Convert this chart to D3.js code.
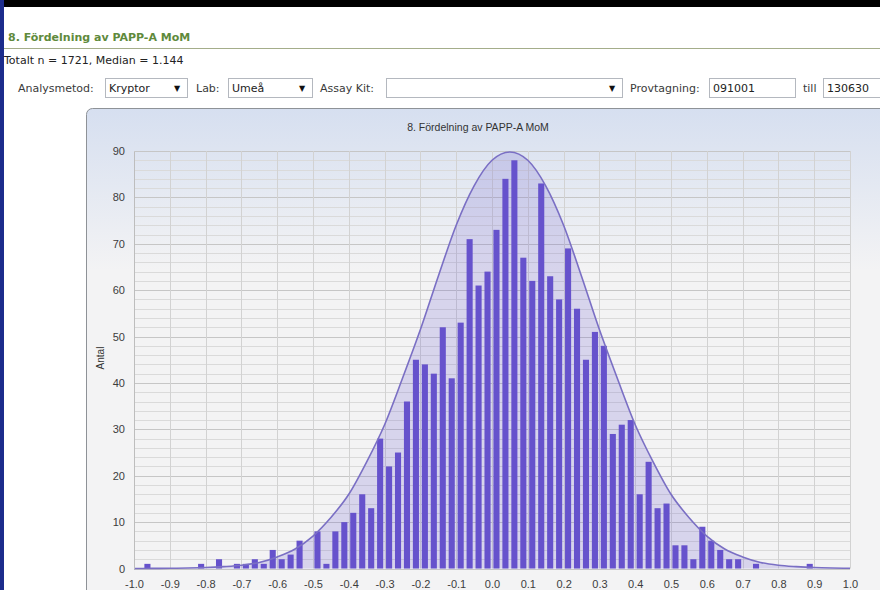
<!DOCTYPE html>
<html>
<head>
<meta charset="utf-8">
<script src="https://cdn.jsdelivr.net/npm/d3@7"></script>
<style>
  body { margin: 0; background: #fff; }
  svg { display: block; }
  .hdr { font-family: "DejaVu Sans", Verdana, sans-serif; font-size: 11px; fill: #3a3a3a; }
  .chart text { font-family: "Liberation Sans", Arial, sans-serif; fill: #333; }
</style>
</head>
<body>
<div id="page"></div>
<script>
// Bin centres (log MoM), bin width 0.025
var binCenters = [
  -0.9875, -0.9625, -0.9375, -0.9125, -0.8875, -0.8625, -0.8375, -0.8125, -0.7875, -0.7625,
  -0.7375, -0.7125, -0.6875, -0.6625, -0.6375, -0.6125, -0.5875, -0.5625, -0.5375, -0.5125,
  -0.4875, -0.4625, -0.4375, -0.4125, -0.3875, -0.3625, -0.3375, -0.3125, -0.2875, -0.2625,
  -0.2375, -0.2125, -0.1875, -0.1625, -0.1375, -0.1125, -0.0875, -0.0625, -0.0375, -0.0125,
   0.0125,  0.0375,  0.0625,  0.0875,  0.1125,  0.1375,  0.1625,  0.1875,  0.2125,  0.2375,
   0.2625,  0.2875,  0.3125,  0.3375,  0.3625,  0.3875,  0.4125,  0.4375,  0.4625,  0.4875,
   0.5125,  0.5375,  0.5625,  0.5875,  0.6125,  0.6375,  0.6625,  0.6875,  0.7125,  0.7375,
   0.7625,  0.7875,  0.8125,  0.8375,  0.8625,  0.8875,  0.9125,  0.9375,  0.9625,  0.9875
];
var binWidth = 0.025;

// Antal per bin
var counts = [
   0,  1,  0,  0,  0,  0,  0,  1,  0,  2,
   0,  1,  1,  2,  1,  4,  2,  3,  6,  0,
   8,  1,  8, 10, 12, 16, 13, 28, 22, 25,
  36, 45, 44, 42, 52, 41, 53, 71, 61, 64,
  73, 84, 88, 67, 62, 83, 63, 58, 69, 56,
  45, 51, 48, 29, 31, 32, 16, 23, 13, 14,
   5,  5,  2,  9,  6,  4,  2,  2,  0,  1,
   0,  0,  0,  0,  0,  1,  0,  0,  0,  0
];

// Normal curve
var curveX = [
  -1.0, -0.95, -0.9, -0.85, -0.8, -0.75, -0.7, -0.65, -0.6, -0.55,
  -0.5, -0.45, -0.4, -0.35, -0.3, -0.25, -0.2, -0.15, -0.1, -0.05,
   0.0,  0.05,  0.1,  0.15,  0.2,  0.25,  0.3,  0.35,  0.4,  0.45,
   0.5,  0.55,  0.6,  0.65,  0.7,  0.75,  0.8,  0.85,  0.9,  0.95, 1.0
];
var curveY = [
  0.01, 0.02, 0.05, 0.1, 0.2, 0.4, 0.7, 1.3, 2.5, 4.2,
  7, 11, 16, 23, 31, 41, 51.5, 63, 74, 82.5,
  88, 89.8, 88, 82.5, 74, 63, 51.5, 41, 31, 23,
  16, 11, 7, 4.2, 2.5, 1.3, 0.7, 0.4, 0.2, 0.1, 0.05
];

var xTickLabels = ["-1.0", "-0.9", "-0.8", "-0.7", "-0.6", "-0.5", "-0.4", "-0.3", "-0.2", "-0.1",
  "0.0", "0.1", "0.2", "0.3", "0.4", "0.5", "0.6", "0.7", "0.8", "0.9", "1.0"];
var yTickLabels = ["0", "10", "20", "30", "40", "50", "60", "70", "80", "90"];

var width = 880, height = 590;

var svg = d3.select("#page").append("svg")
  .attr("width", width)
  .attr("height", height);

//Page frame
svg.append("rect").attr("x", 0).attr("y", 0).attr("width", width).attr("height", 7).attr("fill", "#000");
svg.append("rect").attr("x", 0).attr("y", 0).attr("width", 4).attr("height", height).attr("fill", "#1c2c8c");

//Heading + summary
var hdr = svg.append("g").attr("class", "hdr");
hdr.append("text")
  .attr("x", 8).attr("y", 41)
  .style("font-weight", "bold")
  .style("fill", "#5f8a3c")
  .text("8. Fördelning av PAPP-A MoM");
svg.append("line")
  .attr("x1", 4).attr("x2", width).attr("y1", 48.5).attr("y2", 48.5)
  .attr("stroke", "#a4ad8a");
hdr.append("text").attr("x", 4).attr("y", 64).style("fill", "#222")
  .text("Totalt n = 1721, Median = 1.144");

//Filter row
var filters = [
  { label: "Analysmetod:", lx: 18, bx: 105, bw: 82, value: "Kryptor", drop: true },
  { label: "Lab:", lx: 196, bx: 228, bw: 84, value: "Umeå", drop: true },
  { label: "Assay Kit:", lx: 320, bx: 386, bw: 236, value: "", drop: true },
  { label: "Provtagning:", lx: 630, bx: 709, bw: 86, value: "091001", drop: false },
  { label: "till", lx: 803, bx: 823, bw: 70, value: "130630", drop: false }
];
var f = hdr.selectAll(".filter").data(filters).enter().append("g").attr("class", "filter");
f.append("text").attr("x", d => d.lx).attr("y", 92).text(d => d.label);
f.append("rect")
  .attr("x", d => d.bx + 0.5).attr("y", 78.5)
  .attr("width", d => d.bw).attr("height", 19)
  .attr("fill", "#fff").attr("stroke", "#b4b8bf");
f.append("text").attr("x", d => d.bx + 4).attr("y", 92).style("fill", "#222").text(d => d.value);
f.filter(d => d.drop).append("text")
  .attr("x", d => d.bx + d.bw - 13).attr("y", 91)
  .style("font-size", "8px").style("fill", "#111")
  .text("▼");

//Chart panel
var defs = svg.append("defs");
var grad = defs.append("linearGradient").attr("id", "panelGrad")
  .attr("gradientUnits", "userSpaceOnUse")
  .attr("x1", 0).attr("y1", 108).attr("x2", 0).attr("y2", 270);
grad.append("stop").attr("offset", "0%").attr("stop-color", "#d6dff0");
grad.append("stop").attr("offset", "100%").attr("stop-color", "#f3f3f4");

var chart = svg.append("g").attr("class", "chart");
chart.append("rect")
  .attr("x", 86.5).attr("y", 108.5)
  .attr("width", 830).attr("height", 520)
  .attr("rx", 6)
  .attr("fill", "url(#panelGrad)")
  .attr("stroke", "#8e9297");

var x = d3.scaleLinear().domain([-1, 1]).range([134, 850]);
var y = d3.scaleLinear().domain([0, 90]).range([568.5, 151]);

//Grid
chart.append("g").selectAll("line").data(y.ticks(45)).enter().append("line")
  .attr("x1", x(-1)).attr("x2", x(1))
  .attr("y1", d => Math.round(y(d)) + 0.5).attr("y2", d => Math.round(y(d)) + 0.5)
  .attr("stroke", d => d % 10 === 0 ? "#c6c6c6" : "#dadada");
chart.append("g").selectAll("line").data(xTickLabels.map(Number)).enter().append("line")
  .attr("x1", d => Math.round(x(d)) + 0.5).attr("x2", d => Math.round(x(d)) + 0.5)
  .attr("y1", y(90)).attr("y2", y(0))
  .attr("stroke", "#d2d2d2");

//Curve area
var area = d3.area()
  .x((d, i) => x(curveX[i]))
  .y0(y(0))
  .y1(d => y(d))
  .curve(d3.curveMonotoneX);
var line = d3.line()
  .x((d, i) => x(curveX[i]))
  .y(d => y(d))
  .curve(d3.curveMonotoneX);

chart.append("path").datum(curveY)
  .attr("d", area)
  .attr("fill", "#6a5acd")
  .attr("fill-opacity", 0.2);

//Bars
var bw = (x(binWidth) - x(0)) * 0.68;
chart.append("g").selectAll("rect").data(counts).enter().append("rect")
  .attr("x", (d, i) => x(binCenters[i]) - bw / 2)
  .attr("y", d => y(d))
  .attr("width", bw)
  .attr("height", d => y(0) - y(d))
  .attr("fill", "#6652cc");

chart.append("path").datum(curveY)
  .attr("d", line)
  .attr("fill", "none")
  .attr("stroke", "#7a6fc4")
  .attr("stroke-width", 1.6);

//Axes
var xAxis = d3.axisBottom(x)
  .tickValues(xTickLabels.map(Number))
  .tickFormat((d, i) => xTickLabels[i])
  .tickSize(0).tickPadding(0);
var yAxis = d3.axisLeft(y)
  .tickValues(yTickLabels.map(Number))
  .tickFormat((d, i) => yTickLabels[i])
  .tickSize(0).tickPadding(9);

var gx = chart.append("g").attr("transform", "translate(0," + 580.5 + ")").call(xAxis);
var gy = chart.append("g").attr("transform", "translate(" + x(-1) + ",0)").call(yAxis);
gx.select(".domain").remove();
gy.select(".domain").attr("stroke", "#bdbdbd");
chart.selectAll(".tick text").style("font-size", "11px").style("fill", "#3c3c3c");

chart.append("text")
  .attr("transform", "translate(104,358) rotate(-90)")
  .style("font-size", "10px")
  .attr("text-anchor", "middle")
  .text("Antal");

chart.append("text")
  .attr("x", 478).attr("y", 131)
  .attr("text-anchor", "middle")
  .style("font-size", "10.5px")
  .text("8. Fördelning av PAPP-A MoM");
</script>
</body>
</html>
